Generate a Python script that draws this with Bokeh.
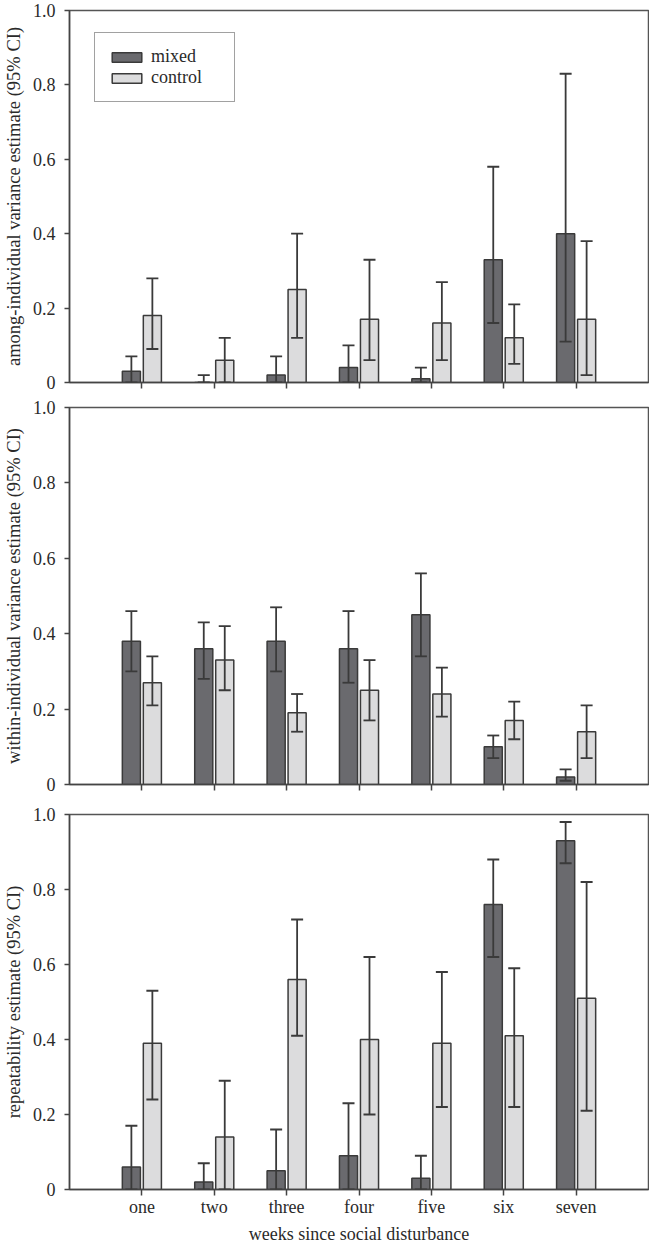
import numpy as np
from bokeh.plotting import figure
from bokeh.layouts import column
from bokeh.models import (ColumnDataSource, Range1d, FixedTicker, Whisker, TeeHead,
                          Legend, LegendItem)
from bokeh.embed import file_html
from bokeh.resources import INLINE

weeks = ["one", "two", "three", "four", "five", "six", "seven"]
y_ticks = [0, 0.2, 0.4, 0.6, 0.8, 1.0]
y_tick_labels = ["0", "0.2", "0.4", "0.6", "0.8", "1.0"]

# panel 1: among-individual variance
among_mixed = [0.03, 0.0, 0.02, 0.04, 0.01, 0.33, 0.40]
among_mixed_lo = [0.0, 0.0, 0.0, 0.0, 0.0, 0.16, 0.11]
among_mixed_hi = [0.07, 0.02, 0.07, 0.10, 0.04, 0.58, 0.83]
among_control = [0.18, 0.06, 0.25, 0.17, 0.16, 0.12, 0.17]
among_control_lo = [0.09, 0.0, 0.12, 0.06, 0.06, 0.05, 0.02]
among_control_hi = [0.28, 0.12, 0.40, 0.33, 0.27, 0.21, 0.38]

# panel 2: within-individual variance
within_mixed = [0.38, 0.36, 0.38, 0.36, 0.45, 0.10, 0.02]
within_mixed_lo = [0.30, 0.28, 0.30, 0.27, 0.34, 0.07, 0.01]
within_mixed_hi = [0.46, 0.43, 0.47, 0.46, 0.56, 0.13, 0.04]
within_control = [0.27, 0.33, 0.19, 0.25, 0.24, 0.17, 0.14]
within_control_lo = [0.21, 0.25, 0.14, 0.17, 0.18, 0.12, 0.07]
within_control_hi = [0.34, 0.42, 0.24, 0.33, 0.31, 0.22, 0.21]

# panel 3: repeatability
rep_mixed = [0.06, 0.02, 0.05, 0.09, 0.03, 0.76, 0.93]
rep_mixed_lo = [0.0, 0.0, 0.0, 0.0, 0.0, 0.62, 0.87]
rep_mixed_hi = [0.17, 0.07, 0.16, 0.23, 0.09, 0.88, 0.98]
rep_control = [0.39, 0.14, 0.56, 0.40, 0.39, 0.41, 0.51]
rep_control_lo = [0.24, 0.0, 0.41, 0.20, 0.22, 0.22, 0.21]
rep_control_hi = [0.53, 0.29, 0.72, 0.62, 0.58, 0.59, 0.82]

FONT = "Liberation Serif"
TXT = "#2a2a2a"
LINE = "#3a3a3a"
MIX_COL = "#6a6a6e"
CTL_COL = "#dcdcdd"
OFF = 0.145
BW = 0.25


def make_panel(ylabel, mixed, mlo, mhi, control, clo, chi, height, top, bottom,
               show_x, legend=False):
    p = figure(width=649, height=height, output_backend="svg", toolbar_location=None,
               x_range=Range1d(-1, 7), y_range=Range1d(0, 1),
               min_border_left=68, min_border_right=1,
               min_border_top=top, min_border_bottom=bottom)
    p.grid.visible = False
    p.outline_line_color = "#555555"
    p.outline_line_width = 1.5
    p.background_fill_color = "white"
    p.border_fill_color = "white"

    idx = np.arange(len(weeks))
    sm = ColumnDataSource(dict(x=idx - OFF, top=mixed, lo=mlo, hi=mhi))
    sc = ColumnDataSource(dict(x=idx + OFF, top=control, lo=clo, hi=chi))
    rm = p.vbar(x="x", top="top", width=BW, source=sm, fill_color=MIX_COL,
                line_color=LINE, line_width=1.5)
    rc = p.vbar(x="x", top="top", width=BW, source=sc, fill_color=CTL_COL,
                line_color=LINE, line_width=1.5)
    for s in (sm, sc):
        w = Whisker(source=s, base="x", upper="hi", lower="lo", dimension="height",
                    line_color=LINE, line_width=1.8, level="overlay",
                    upper_head=TeeHead(size=12, line_color=LINE, line_width=1.8),
                    lower_head=TeeHead(size=12, line_color=LINE, line_width=1.8))
        p.add_layout(w)

    for ax in (p.xaxis[0], p.yaxis[0]):
        ax.axis_line_color = "#444444"
        ax.axis_line_width = 1.5
        ax.major_tick_line_color = "#444444"
        ax.major_tick_line_width = 1.5
        ax.major_tick_in = 0
        ax.major_tick_out = 5
        ax.minor_tick_line_color = None
        ax.major_label_text_font = FONT
        ax.major_label_text_color = TXT
        ax.axis_label_text_font = FONT
        ax.axis_label_text_font_style = "normal"
        ax.axis_label_text_color = TXT

    ya = p.yaxis[0]
    ya.ticker = FixedTicker(ticks=y_ticks)
    ya.major_label_overrides = {t: l for t, l in zip(y_ticks, y_tick_labels)}
    ya.major_label_text_font_size = "18px"
    ya.major_label_standoff = 9
    ya.axis_label = ylabel
    ya.axis_label_text_font_size = "18.5px"
    ya.axis_label_standoff = 6

    xa = p.xaxis[0]
    xa.ticker = FixedTicker(ticks=list(range(len(weeks))))
    xa.major_tick_out = 6
    if show_x:
        xa.major_label_overrides = {i: w for i, w in enumerate(weeks)}
        xa.major_label_text_font_size = "18px"
        xa.major_label_standoff = 1
        xa.axis_label = "weeks since social disturbance"
        xa.axis_label_text_font_size = "18px"
        xa.axis_label_standoff = 4
    else:
        xa.major_label_overrides = {i: "" for i in range(len(weeks))}
        xa.major_label_text_font_size = "1px"
        xa.major_label_standoff = 0

    if legend:
        lg = Legend(items=[LegendItem(label="mixed", renderers=[rm]),
                           LegendItem(label="control", renderers=[rc])],
                    location=(25, 280), orientation="vertical",
                    border_line_color="#444444", border_line_width=1.5,
                    background_fill_color="white", background_fill_alpha=1,
                    padding=13, spacing=0, margin=0,
                    glyph_width=37, glyph_height=12, label_standoff=6,
                    label_width=70, label_height=21,
                    label_text_font=FONT, label_text_font_size="18px",
                    label_text_color=TXT)
        p.add_layout(lg, "center")
    return p


p1 = make_panel("among-individual variance estimate (95% CI)",
                among_mixed, among_mixed_lo, among_mixed_hi,
                among_control, among_control_lo, among_control_hi,
                height=396, top=10, bottom=14, show_x=False, legend=True)
p2 = make_panel("within-individual variance estimate (95% CI)",
                within_mixed, within_mixed_lo, within_mixed_hi,
                within_control, within_control_lo, within_control_hi,
                height=404, top=11, bottom=16, show_x=False)
p3 = make_panel("repeatability estimate (95% CI)",
                rep_mixed, rep_mixed_lo, rep_mixed_hi,
                rep_control, rep_control_lo, rep_control_hi,
                height=446, top=14, bottom=57, show_x=True)

layout = column(p1, p2, p3, spacing=0)
open("out.html", "w").write(file_html(layout, INLINE))
